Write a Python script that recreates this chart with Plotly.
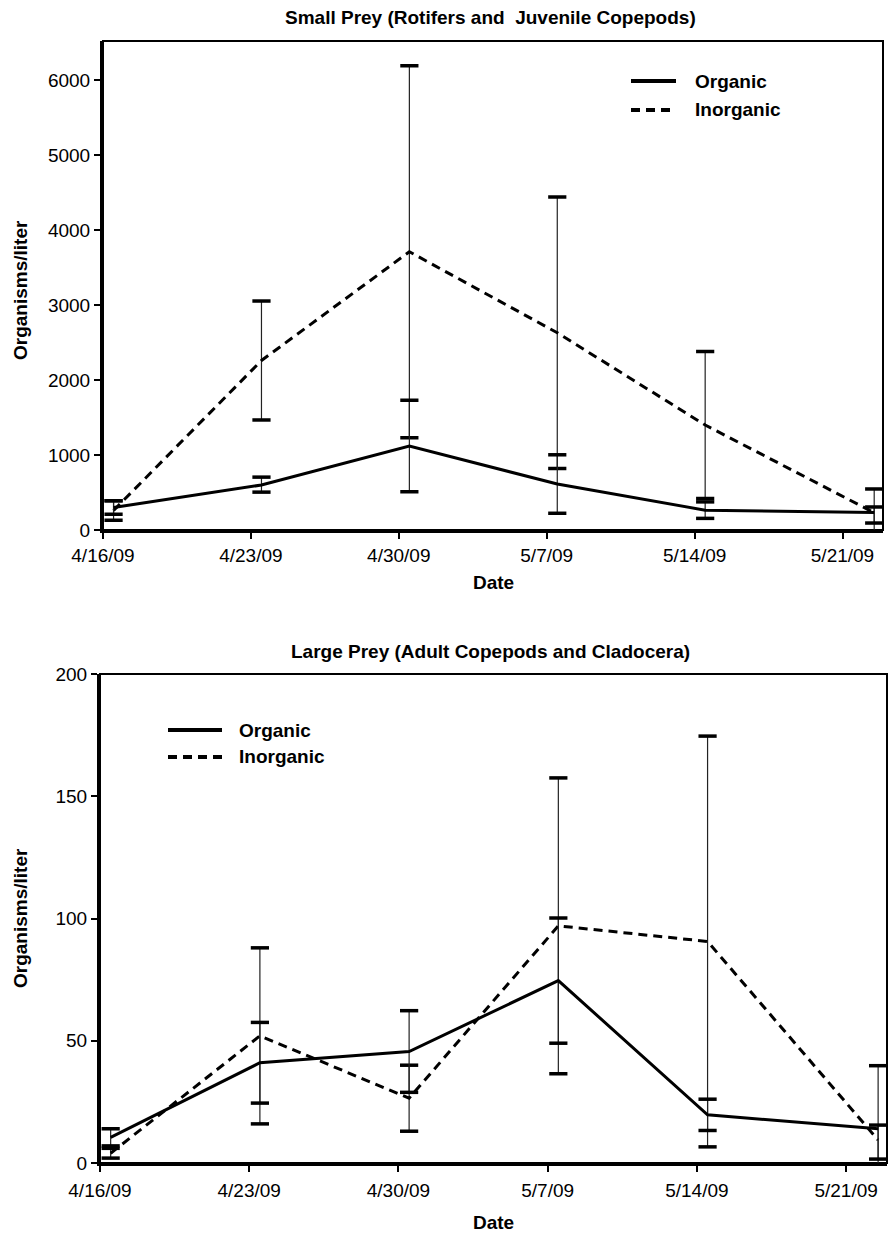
import pandas as pd
import plotly.graph_objects as go

# ---------------- data ----------------
dates = ["2009-04-16", "2009-04-23", "2009-04-30", "2009-05-07", "2009-05-14", "2009-05-22"]
tick_labels_start = "2009-04-16"

# Small prey (organisms/liter)
small_org = [300, 600, 1120, 613, 265, 235]
small_org_err_plus = [90, 105, 610, 390, 110, 72]
small_org_err_minus = [90, 95, 610, 390, 110, 142]
small_inorg = [260, 2260, 3710, 2630, 1400, 230]
small_inorg_err = [130, 793, 2480, 1810, 980, 317]

# Large prey (organisms/liter)
large_org = [10.5, 41, 45.6, 74.6, 19.7, 14]
large_org_err_plus = [3.5, 16.5, 16.7, 25.6, 6.4, 1.5]
large_org_err_minus = [3.5, 16.5, 16.7, 25.6, 6.4, 12.4]
large_inorg = [4, 52, 26.5, 97, 90.6, 9.4]
large_inorg_err = [2, 36, 13.5, 60.5, 84, 30.4]

series_names = ["Organic", "Inorganic"]
titles = ["Small Prey (Rotifers and  Juvenile Copepods)",
          "Large Prey (Adult Copepods and Cladocera)"]

# ---------------- layout helpers ----------------
W, H = 889, 1233
FONT = "Liberation Sans, Arial, Helvetica, sans-serif"


def fx(x):
    return x / W


def fy(y):
    return 1 - y / H


x = pd.to_datetime(dates) + pd.Timedelta(hours=12)

fig = go.Figure()


def add_series(xa, ya, vals, ep, em, dash):
    fig.add_trace(go.Scatter(
        x=x, y=vals, mode="lines", xaxis=xa, yaxis=ya, showlegend=False,
        line=dict(color="black", width=3, dash=dash),
        error_y=dict(type="data", array=ep, arrayminus=em, symmetric=False,
                     color="#222", thickness=1.2, width=0),
    ))
    caps_y = [v + p for v, p in zip(vals, ep)] + [v - m for v, m in zip(vals, em)]
    caps_x = list(x) + list(x)
    fig.add_trace(go.Scatter(
        x=caps_x, y=caps_y, mode="markers", xaxis=xa, yaxis=ya, showlegend=False,
        marker=dict(symbol="line-ew", size=13, color="black",
                    line=dict(color="black", width=3.5)),
    ))


add_series("x", "y", small_inorg, small_inorg_err, small_inorg_err, "9px,6px")
add_series("x", "y", small_org, small_org_err_plus, small_org_err_minus, "solid")
add_series("x2", "y2", large_inorg, large_inorg_err, large_inorg_err, "9px,6px")
add_series("x2", "y2", large_org, large_org_err_plus, large_org_err_minus, "solid")

xcommon = dict(type="date", tick0=tick_labels_start, dtick=7 * 86400000,
               tickformat="%-m/%-d/%y", showgrid=False, zeroline=False,
               showline=True, linecolor="black", linewidth=3, automargin=False,
               ticks="outside", ticklen=6, tickwidth=2, tickcolor="black",
               tickfont=dict(family=FONT, size=19, color="black"),
               range=["2009-04-16 00:00", "2009-05-22 22:00"])
ycommon = dict(showgrid=False, zeroline=False, showline=True, linecolor="black",
               linewidth=3, ticks="outside", ticklen=6, tickwidth=2, automargin=False,
               tickcolor="black", tickfont=dict(family=FONT, size=19, color="black"))

fig.update_layout(
    width=W, height=H, margin=dict(l=0, r=0, t=0, b=0, autoexpand=False),
    paper_bgcolor="white", plot_bgcolor="white", showlegend=False,
    xaxis=dict(domain=[fx(103), fx(883)], anchor="y", ticklabelstandoff=0, **xcommon),
    yaxis=dict(domain=[fy(530), fy(41)], anchor="x", range=[0, 6520],
               tickvals=[0, 1000, 2000, 3000, 4000, 5000, 6000], **ycommon),
    xaxis2=dict(domain=[fx(100), fx(887)], anchor="y2", ticklabelstandoff=2, **xcommon),
    yaxis2=dict(domain=[fy(1163), fy(674)], anchor="x2", range=[0, 200],
                tickvals=[0, 50, 100, 150, 200], **ycommon),
)

# frame (top/right borders)
for xr, yr in (("x domain", "y domain"), ("x2 domain", "y2 domain")):
    fig.add_shape(type="rect", xref=xr, yref=yr, x0=0, x1=1, y0=0, y1=1,
                  line=dict(color="black", width=2), layer="below")

bold = dict(family=FONT, size=19, color="black")

# titles
fig.add_annotation(text="<b>" + titles[0] + "</b>", x=fx(490), y=fy(18), xref="paper",
                   yref="paper", showarrow=False, font=bold, xanchor="center", yanchor="middle")
fig.add_annotation(text="<b>" + titles[1] + "</b>", x=fx(490), y=fy(651), xref="paper",
                   yref="paper", showarrow=False, font=bold, xanchor="center", yanchor="middle")
# x titles
for yy in (582, 1222):
    fig.add_annotation(text="<b>Date</b>", x=fx(493), y=fy(yy), xref="paper", yref="paper",
                       showarrow=False, font=bold, xanchor="center", yanchor="middle")
# y titles
for yy in (290, 918):
    fig.add_annotation(text="<b>Organisms/liter</b>", x=fx(20), y=fy(yy), xref="paper",
                       yref="paper", showarrow=False, font=bold, textangle=-90,
                       xanchor="center", yanchor="middle")

# manual legends
legend_specs = [
    (631, 676, 693, 81, 110),   # top chart
    (168, 222, 237, 730, 757),  # bottom chart
]
for x0, x1, xt, y_org, y_inorg in legend_specs:
    fig.add_shape(type="line", xref="paper", yref="paper", x0=fx(x0), x1=fx(x1),
                  y0=fy(y_org), y1=fy(y_org), line=dict(color="black", width=4))
    fig.add_shape(type="line", xref="paper", yref="paper", x0=fx(x0), x1=fx(x1),
                  y0=fy(y_inorg), y1=fy(y_inorg),
                  line=dict(color="black", width=4, dash="9px,6px"))
    fig.add_annotation(text="<b>" + series_names[0] + "</b>", x=fx(xt), y=fy(y_org),
                       xref="paper", yref="paper", showarrow=False, font=bold,
                       xanchor="left", yanchor="middle")
    fig.add_annotation(text="<b>" + series_names[1] + "</b>", x=fx(xt), y=fy(y_inorg),
                       xref="paper", yref="paper", showarrow=False, font=bold,
                       xanchor="left", yanchor="middle")

fig.write_html(
    "out.html",
    config={"displayModeBar": False},
    post_script="document.body.style.margin='0';document.body.style.overflow='hidden';",
)
